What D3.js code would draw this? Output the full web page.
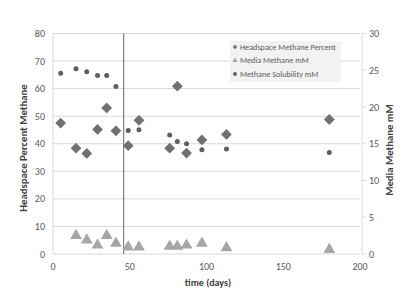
<!DOCTYPE html>
<html>
<head>
<meta charset="utf-8">
<script src="https://cdn.jsdelivr.net/npm/d3@7"></script>
<style>
body { margin: 0; background: #fff; }
text { font-family: Calibri, Carlito, "Liberation Sans", Arial, sans-serif; }
</style>
</head>
<body>
<div id="chart"></div>
<script>
// data
var headDays = [5, 15, 22, 29, 35, 41, 49, 56, 76, 81, 87, 97, 113, 180];
var headspace = [47.5, 38.4, 36.5, 45.2, 53, 44.7, 39.3, 48.5, 38.4, 60.9, 36.6, 41.4, 43.4, 48.8];

var mediaDays = [15, 22, 29, 35, 41, 49, 56, 76, 81, 87, 97, 113, 180];
var media = [2.5, 1.9, 1.2, 2.5, 1.45, 0.95, 0.95, 1.05, 1.05, 1.2, 1.45, 0.85, 0.6];

var solDays = [5, 15, 22, 29, 35, 41, 49, 56, 76, 81, 87, 97, 113, 180];
var solubility = [24.6, 25.2, 24.8, 24.3, 24.3, 22.8, 16.8, 16.9, 16.2, 15.3, 15.0, 14.2, 14.3, 13.8];

var leftTicks = [0, 10, 20, 30, 40, 50, 60, 70, 80];
var rightTicks = [0, 5, 10, 15, 20, 25, 30];
var xTicks = [0, 50, 100, 150, 200];
var markerDay = 46;

var legendNames = ['Headspace Methane Percent', 'Media Methane mM', 'Methane Solubility mM'];

var width = 406, height = 294;
var svg = d3.select('#chart').append('svg')
	.attr('width', width)
	.attr('height', height);

var x = d3.scaleLinear().domain([0, 200]).range([53, 360]);
var yL = d3.scaleLinear().domain([0, 80]).range([254, 33.5]);
var yR = d3.scaleLinear().domain([0, 30]).range([254, 33.5]);

// gridlines
svg.append('g').selectAll('line')
	.data(leftTicks.filter(function(d) { return d > 0; }))
	.enter().append('line')
	.attr('x1', x(0)).attr('x2', x(200))
	.attr('y1', function(d) { return yL(d); })
	.attr('y2', function(d) { return yL(d); })
	.attr('stroke', '#d9d9d9')
	.attr('stroke-width', 1);

// axis lines
svg.append('line')
	.attr('x1', x(0)).attr('x2', x(0)).attr('y1', yL(80)).attr('y2', yL(0))
	.attr('stroke', '#d9d9d9');
svg.append('line')
	.attr('x1', x(0)).attr('x2', x(200)).attr('y1', yL(0)).attr('y2', yL(0))
	.attr('stroke', '#d9d9d9');
svg.append('line')
	.attr('x1', x(200) + 2).attr('x2', x(200) + 2).attr('y1', yR(30)).attr('y2', yR(0))
	.attr('stroke', '#d9d9d9');
svg.append('g').selectAll('line')
	.data(rightTicks)
	.enter().append('line')
	.attr('x1', x(200) + 2).attr('x2', x(200) + 6)
	.attr('y1', function(d) { return yR(d); })
	.attr('y2', function(d) { return yR(d); })
	.attr('stroke', '#d9d9d9');

// tick labels
svg.append('g').selectAll('text')
	.data(leftTicks)
	.enter().append('text')
	.attr('x', 45)
	.attr('y', function(d) { return yL(d) + 3.5; })
	.attr('text-anchor', 'end')
	.attr('font-size', '10px')
	.attr('fill', '#595959')
	.text(function(d) { return d; });

svg.append('g').selectAll('text')
	.data(rightTicks)
	.enter().append('text')
	.attr('x', 369)
	.attr('y', function(d) { return yR(d) + 3.5; })
	.attr('font-size', '10px')
	.attr('fill', '#595959')
	.text(function(d) { return d; });

svg.append('g').selectAll('text')
	.data(xTicks)
	.enter().append('text')
	.attr('x', function(d) { return x(d); })
	.attr('y', 270)
	.attr('text-anchor', 'middle')
	.attr('font-size', '10px')
	.attr('fill', '#595959')
	.text(function(d) { return d; });

// axis titles
svg.append('text')
	.attr('transform', 'translate(27,148) rotate(-90)')
	.attr('text-anchor', 'middle')
	.attr('font-size', '10.7px')
	.attr('font-weight', 'bold')
	.attr('fill', '#404040')
	.text('Headspace Percent Methane');

svg.append('text')
	.attr('transform', 'translate(393,150) rotate(-90)')
	.attr('text-anchor', 'middle')
	.attr('font-size', '10.7px')
	.attr('font-weight', 'bold')
	.attr('fill', '#404040')
	.text('Media Methane mM');

svg.append('text')
	.attr('x', 208)
	.attr('y', 286)
	.attr('text-anchor', 'middle')
	.attr('font-size', '10px')
	.attr('font-weight', 'bold')
	.attr('fill', '#404040')
	.text('time (days)');

// vertical marker line
svg.append('line')
	.attr('x1', x(markerDay)).attr('x2', x(markerDay))
	.attr('y1', yL(80)).attr('y2', yL(0))
	.attr('stroke', '#7f7f7f')
	.attr('stroke-width', 1.2);

// series
var diamond = d3.symbol().type(d3.symbolSquare).size(58);
var tri = d3.symbol().type(d3.symbolTriangle).size(60);

svg.append('g').selectAll('path')
	.data(headspace)
	.enter().append('path')
	.attr('d', diamond)
	.attr('transform', function(d, i) { return 'translate(' + x(headDays[i]) + ',' + yL(d) + ') rotate(45)'; })
	.attr('fill', '#707070');

svg.append('g').selectAll('path')
	.data(media)
	.enter().append('path')
	.attr('d', tri)
	.attr('transform', function(d, i) { return 'translate(' + x(mediaDays[i]) + ',' + yR(d) + ')'; })
	.attr('fill', '#a6a6a6');

svg.append('g').selectAll('circle')
	.data(solubility)
	.enter().append('circle')
	.attr('cx', function(d, i) { return x(solDays[i]); })
	.attr('cy', function(d) { return yR(d); })
	.attr('r', 2.5)
	.attr('fill', '#5f5f5f');

// legend
var legend = svg.append('g');
legend.append('rect')
	.attr('x', 230).attr('y', 41)
	.attr('width', 111).attr('height', 41)
	.attr('fill', '#f2f2f2');

var legendMarks = [
	d3.symbol().type(d3.symbolSquare).size(10),
	d3.symbol().type(d3.symbolTriangle).size(12),
	d3.symbol().type(d3.symbolCircle).size(12)
];
var legendColors = ['#707070', '#a6a6a6', '#5f5f5f'];

legendNames.forEach(function(name, i) {
	var ly = 47 + i * 13.5;
	legend.append('path')
		.attr('d', legendMarks[i])
		.attr('transform', 'translate(235,' + ly + ')' + (i === 0 ? ' rotate(45)' : ''))
		.attr('fill', legendColors[i]);
	legend.append('text')
		.attr('x', 240)
		.attr('y', ly + 2.7)
		.attr('font-size', '8.2px')
		.attr('fill', '#595959')
		.text(name);
});
</script>
</body>
</html>
